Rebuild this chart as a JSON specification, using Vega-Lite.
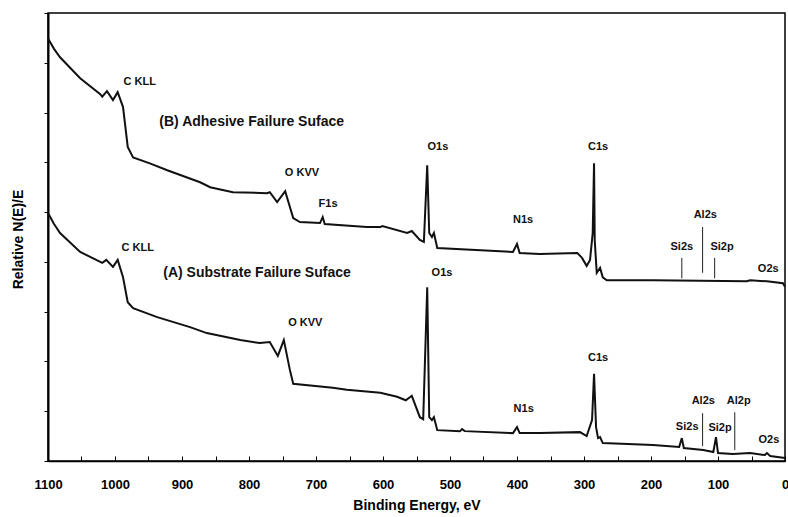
{
  "$schema": "https://vega.github.io/schema/vega-lite/v6.json",
  "width": 737,
  "height": 448,
  "autosize": {"type": "none"},
  "padding": {"left": 48, "top": 13, "right": 3, "bottom": 56},
  "background": "white",
  "config": {"view": {"stroke": "black", "strokeWidth": 1.5}, "font": "Liberation Sans"},
  "datasets": {
    "spectra": [
      {"series": "B", "E": 1100, "v": 84.9}, {"series": "B", "E": 1091, "v": 82.8}, {"series": "B", "E": 1082, "v": 81.1}, {"series": "B", "E": 1052, "v": 76.9},
      {"series": "B", "E": 1022, "v": 73.7}, {"series": "B", "E": 1019, "v": 73.2}, {"series": "B", "E": 1012, "v": 74.3},
      {"series": "B", "E": 1003, "v": 72.5}, {"series": "B", "E": 996, "v": 74.1}, {"series": "B", "E": 988, "v": 71.1},
      {"series": "B", "E": 981, "v": 63.1}, {"series": "B", "E": 973, "v": 61.0}, {"series": "B", "E": 948, "v": 59.8},
      {"series": "B", "E": 922, "v": 58.4}, {"series": "B", "E": 873, "v": 56.0}, {"series": "B", "E": 858, "v": 55.0},
      {"series": "B", "E": 824, "v": 54.0}, {"series": "B", "E": 773, "v": 53.8}, {"series": "B", "E": 769, "v": 54.0},
      {"series": "B", "E": 758, "v": 52.0}, {"series": "B", "E": 746, "v": 54.2}, {"series": "B", "E": 734, "v": 48.8},
      {"series": "B", "E": 724, "v": 48.0}, {"series": "B", "E": 694, "v": 47.8}, {"series": "B", "E": 690, "v": 49.0},
      {"series": "B", "E": 687, "v": 47.6}, {"series": "B", "E": 624, "v": 47.0}, {"series": "B", "E": 604, "v": 47.0},
      {"series": "B", "E": 601, "v": 47.2}, {"series": "B", "E": 564, "v": 45.8}, {"series": "B", "E": 557, "v": 46.2},
      {"series": "B", "E": 545, "v": 44.4}, {"series": "B", "E": 539, "v": 44.0}, {"series": "B", "E": 534, "v": 59.4},
      {"series": "B", "E": 531, "v": 45.8}, {"series": "B", "E": 527, "v": 45.0}, {"series": "B", "E": 524, "v": 45.8},
      {"series": "B", "E": 519, "v": 42.8}, {"series": "B", "E": 406, "v": 42.0}, {"series": "B", "E": 400, "v": 43.6},
      {"series": "B", "E": 396, "v": 41.8}, {"series": "B", "E": 366, "v": 41.6}, {"series": "B", "E": 310, "v": 41.8},
      {"series": "B", "E": 303, "v": 40.8}, {"series": "B", "E": 296, "v": 39.2}, {"series": "B", "E": 291, "v": 40.4},
      {"series": "B", "E": 287, "v": 45.8}, {"series": "B", "E": 285, "v": 59.8}, {"series": "B", "E": 284, "v": 44.4},
      {"series": "B", "E": 281, "v": 37.8}, {"series": "B", "E": 276, "v": 38.8}, {"series": "B", "E": 272, "v": 36.9},
      {"series": "B", "E": 266, "v": 36.3}, {"series": "B", "E": 197, "v": 36.3}, {"series": "B", "E": 57, "v": 36.1},
      {"series": "B", "E": 52, "v": 36.3}, {"series": "B", "E": 27, "v": 36.1}, {"series": "B", "E": 3, "v": 35.7},
      {"series": "B", "E": 0, "v": 35.0},
      {"series": "A", "E": 1100, "v": 49.8}, {"series": "A", "E": 1091, "v": 47.6}, {"series": "A", "E": 1082, "v": 45.8}, {"series": "A", "E": 1052, "v": 42.0},
      {"series": "A", "E": 1022, "v": 40.0}, {"series": "A", "E": 1019, "v": 39.8}, {"series": "A", "E": 1013, "v": 40.4},
      {"series": "A", "E": 1003, "v": 39.0}, {"series": "A", "E": 996, "v": 40.4}, {"series": "A", "E": 988, "v": 36.9},
      {"series": "A", "E": 981, "v": 31.9}, {"series": "A", "E": 973, "v": 30.7}, {"series": "A", "E": 937, "v": 28.9},
      {"series": "A", "E": 888, "v": 26.9}, {"series": "A", "E": 863, "v": 25.7}, {"series": "A", "E": 813, "v": 24.3},
      {"series": "A", "E": 784, "v": 23.7}, {"series": "A", "E": 769, "v": 23.9}, {"series": "A", "E": 757, "v": 21.1},
      {"series": "A", "E": 748, "v": 24.3}, {"series": "A", "E": 739, "v": 18.3}, {"series": "A", "E": 734, "v": 15.5},
      {"series": "A", "E": 675, "v": 14.7}, {"series": "A", "E": 654, "v": 14.3}, {"series": "A", "E": 604, "v": 13.7},
      {"series": "A", "E": 579, "v": 12.9}, {"series": "A", "E": 566, "v": 12.2}, {"series": "A", "E": 557, "v": 13.1},
      {"series": "A", "E": 545, "v": 8.8}, {"series": "A", "E": 540, "v": 8.4}, {"series": "A", "E": 534, "v": 34.9},
      {"series": "A", "E": 531, "v": 8.8}, {"series": "A", "E": 527, "v": 8.2}, {"series": "A", "E": 524, "v": 8.8},
      {"series": "A", "E": 519, "v": 6.2}, {"series": "A", "E": 485, "v": 6.0}, {"series": "A", "E": 482, "v": 6.4},
      {"series": "A", "E": 478, "v": 6.0}, {"series": "A", "E": 406, "v": 5.6}, {"series": "A", "E": 400, "v": 6.8},
      {"series": "A", "E": 396, "v": 5.6}, {"series": "A", "E": 366, "v": 5.6}, {"series": "A", "E": 306, "v": 5.8},
      {"series": "A", "E": 296, "v": 5.0}, {"series": "A", "E": 288, "v": 8.2}, {"series": "A", "E": 285, "v": 17.5},
      {"series": "A", "E": 282, "v": 6.8}, {"series": "A", "E": 279, "v": 4.6}, {"series": "A", "E": 276, "v": 4.8},
      {"series": "A", "E": 272, "v": 3.6}, {"series": "A", "E": 197, "v": 3.2}, {"series": "A", "E": 158, "v": 2.8},
      {"series": "A", "E": 154, "v": 4.6}, {"series": "A", "E": 151, "v": 2.6}, {"series": "A", "E": 122, "v": 2.2},
      {"series": "A", "E": 107, "v": 1.8}, {"series": "A", "E": 103, "v": 4.8}, {"series": "A", "E": 100, "v": 1.6},
      {"series": "A", "E": 78, "v": 1.4}, {"series": "A", "E": 52, "v": 1.6}, {"series": "A", "E": 30, "v": 1.2},
      {"series": "A", "E": 27, "v": 1.6}, {"series": "A", "E": 22, "v": 1.0}, {"series": "A", "E": 0, "v": 0.6}
    ],
    "markers": [
      {"series": "B", "peak": "Si2s", "E": 154, "v": 36.7, "v2": 40.8},
      {"series": "B", "peak": "Al2s", "E": 123, "v": 37.8, "v2": 47.0},
      {"series": "B", "peak": "Si2p", "E": 105, "v": 36.7, "v2": 40.8},
      {"series": "A", "peak": "Al2s", "E": 123, "v": 3.0, "v2": 9.6},
      {"series": "A", "peak": "Al2p", "E": 75, "v": 2.2, "v2": 9.8}
    ],
    "peakLabels": [
      {"series": "B", "E": 963, "v": 76.1, "label": "C KLL"},
      {"series": "B", "E": 721, "v": 57.8, "label": "O KVV"},
      {"series": "B", "E": 682, "v": 51.6, "label": "F1s"},
      {"series": "B", "E": 518, "v": 63.1, "label": "O1s"},
      {"series": "B", "E": 391, "v": 48.4, "label": "N1s"},
      {"series": "B", "E": 279, "v": 63.1, "label": "C1s"},
      {"series": "B", "E": 119, "v": 49.4, "label": "Al2s"},
      {"series": "B", "E": 154, "v": 43.0, "label": "Si2s"},
      {"series": "B", "E": 94, "v": 43.0, "label": "Si2p"},
      {"series": "B", "E": 25, "v": 38.6, "label": "O2s"},
      {"series": "A", "E": 966, "v": 42.8, "label": "C KLL"},
      {"series": "A", "E": 716, "v": 27.7, "label": "O KVV"},
      {"series": "A", "E": 512, "v": 37.8, "label": "O1s"},
      {"series": "A", "E": 390, "v": 10.4, "label": "N1s"},
      {"series": "A", "E": 279, "v": 20.7, "label": "C1s"},
      {"series": "A", "E": 146, "v": 6.8, "label": "Si2s"},
      {"series": "A", "E": 122, "v": 12.0, "label": "Al2s"},
      {"series": "A", "E": 97, "v": 6.6, "label": "Si2p"},
      {"series": "A", "E": 69, "v": 12.0, "label": "Al2p"},
      {"series": "A", "E": 24, "v": 4.2, "label": "O2s"}
    ],
    "seriesLabels": [
      {"series": "B", "E": 796, "v": 68.1, "label": "(B) Adhesive Failure Suface"},
      {"series": "A", "E": 788, "v": 37.8, "label": "(A) Substrate Failure Suface"}
    ]
  },
  "encoding": {
    "x": {
      "field": "E", "type": "quantitative",
      "scale": {"domain": [0, 1100], "reverse": true, "nice": false, "zero": false},
      "axis": {
        "title": "Binding Energy, eV",
        "values": [0, 50, 100, 150, 200, 250, 300, 350, 400, 450, 500, 550, 600, 650, 700, 750, 800, 850, 900, 950, 1000, 1050, 1100],
        "format": "d",
        "labelExpr": "datum.value % 100 == 0 ? datum.label : ''",
        "grid": false, "tickSize": -5, "labelPadding": 22,
        "labelFontSize": 13, "labelFontWeight": "bold", "labelColor": "black", "labelFlush": false,
        "titleFontSize": 14, "titleFontWeight": "bold", "titleColor": "black",
        "titleY": 44, "titleBaseline": "middle",
        "domainColor": "black", "domainWidth": 1.5, "tickColor": "black", "tickWidth": 1
      }
    },
    "y": {
      "field": "v", "type": "quantitative",
      "scale": {"domain": [0, 90], "nice": false, "zero": false},
      "axis": {
        "title": "Relative N(E)/E",
        "values": [0, 10, 20, 30, 40, 50, 60, 70, 80, 90],
        "labels": false, "grid": false, "tickSize": 4,
        "titleFontSize": 14, "titleFontWeight": "bold", "titleColor": "black",
        "titleX": -30, "titleY": 226, "titleBaseline": "middle", "titleAlign": "center", "titleAngle": -90,
        "domainColor": "black", "domainWidth": 2, "tickColor": "black"
      }
    }
  },
  "layer": [
    {
      "data": {"name": "spectra"},
      "mark": {"type": "line", "color": "#111111", "strokeWidth": 2},
      "encoding": {"detail": {"field": "series", "type": "nominal"}}
    },
    {
      "data": {"name": "markers"},
      "mark": {"type": "rule", "color": "#222222", "strokeWidth": 1},
      "encoding": {"y2": {"field": "v2"}}
    },
    {
      "data": {"name": "peakLabels"},
      "mark": {"type": "text", "fontSize": 11, "fontWeight": "bold", "color": "#111111", "align": "center", "baseline": "middle"},
      "encoding": {"text": {"field": "label", "type": "nominal"}}
    },
    {
      "data": {"name": "seriesLabels"},
      "mark": {"type": "text", "fontSize": 14, "fontWeight": "bold", "color": "#111111", "align": "center", "baseline": "middle"},
      "encoding": {"text": {"field": "label", "type": "nominal"}}
    }
  ]
}
